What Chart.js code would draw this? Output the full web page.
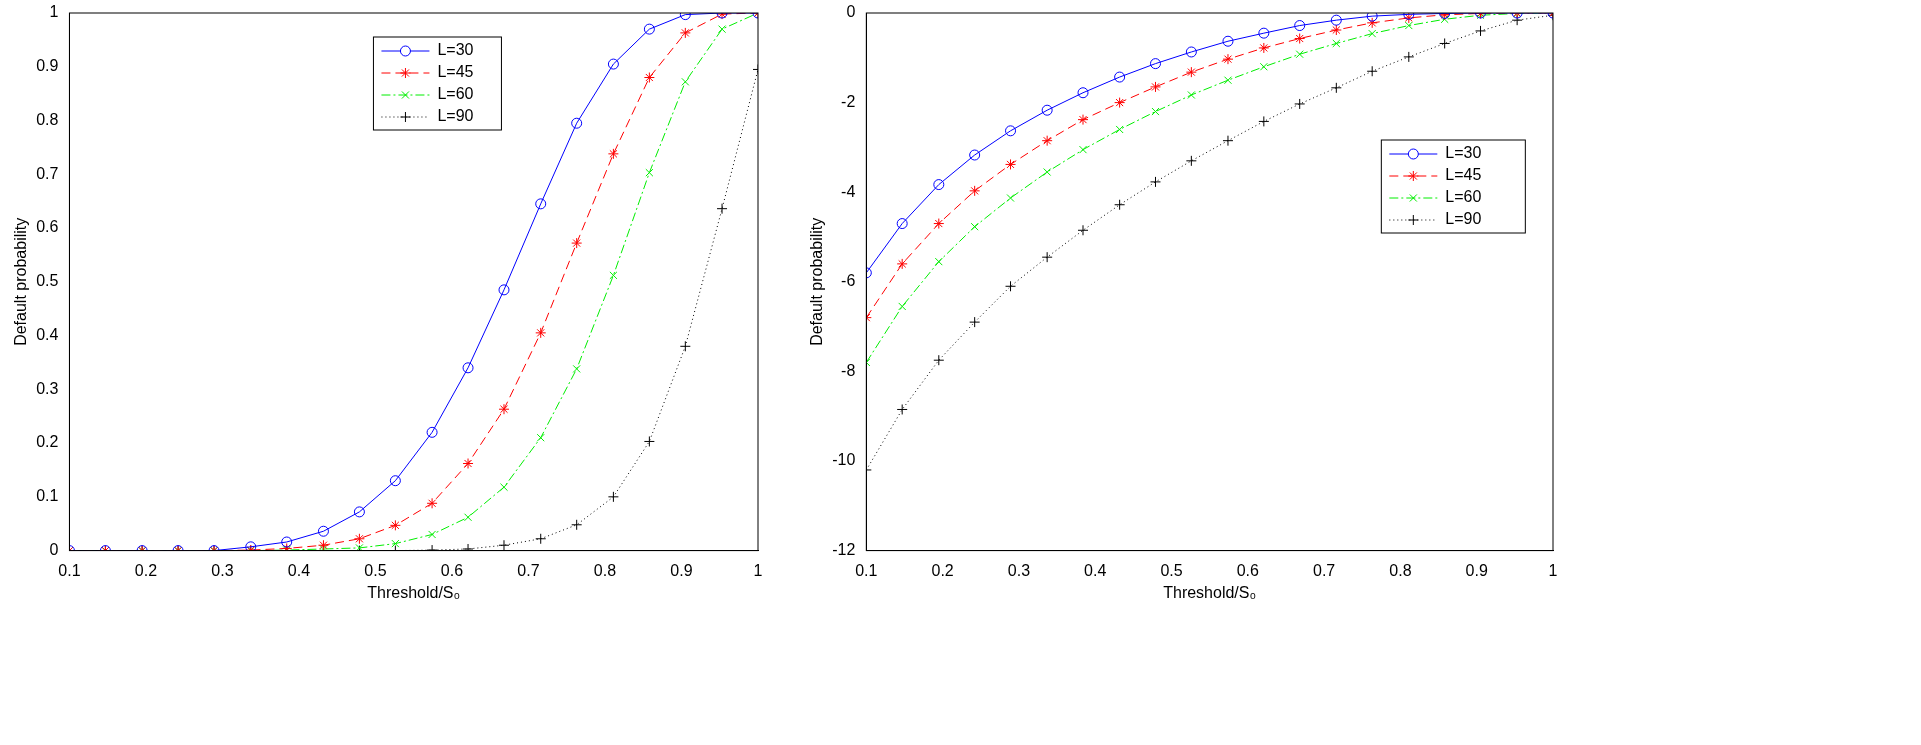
<!DOCTYPE html>
<html><head><meta charset="utf-8">
<script src="https://cdn.jsdelivr.net/npm/chart.js@4/dist/chart.umd.min.js"></script>
<style>
body{margin:0;background:#fff;width:1921px;height:745px;overflow:hidden}
.box{position:absolute;top:0;height:603px}
</style></head><body>
<div class="box" style="left:0;width:775px"><canvas id="c1"></canvas></div>
<div class="box" style="left:806px;width:763px"><canvas id="c2"></canvas></div>
<script>
// threshold/S0 points
const xs = [0.1,0.147,0.195,0.242,0.289,0.337,0.384,0.432,0.479,0.526,0.574,0.621,0.668,0.716,0.763,0.811,0.858,0.905,0.953,1.0];
const labels = ['L=30','L=45','L=60','L=90'];

// default probability
const prob30 = [0,0,0,0,0,0.007,0.016,0.036,0.072,0.13,0.22,0.34,0.485,0.645,0.795,0.905,0.97,0.997,1,1];
const prob45 = [0,0,0,0,0,0.001,0.004,0.01,0.022,0.047,0.088,0.162,0.263,0.405,0.572,0.738,0.88,0.963,0.998,1];
const prob60 = [0,0,0,0,0,0,0.001,0.003,0.005,0.013,0.03,0.062,0.118,0.21,0.338,0.512,0.703,0.872,0.97,1];
const prob90 = [0,0,0,0,0,0,0,0,0,0,0.001,0.003,0.01,0.022,0.048,0.1,0.203,0.38,0.636,0.895];

// log default probability
const log30 = [-5.8,-4.7,-3.83,-3.17,-2.63,-2.17,-1.78,-1.43,-1.13,-0.87,-0.63,-0.45,-0.28,-0.16,-0.07,-0.03,-0.01,0,0,0];
const log45 = [-6.8,-5.6,-4.7,-3.97,-3.38,-2.85,-2.38,-2.0,-1.65,-1.32,-1.03,-0.78,-0.57,-0.38,-0.22,-0.11,-0.04,-0.01,0,0];
const log60 = [-7.8,-6.55,-5.55,-4.77,-4.13,-3.55,-3.05,-2.6,-2.2,-1.83,-1.5,-1.2,-0.92,-0.68,-0.46,-0.28,-0.14,-0.05,-0.01,0];
const log90 = [-10.2,-8.85,-7.75,-6.9,-6.1,-5.45,-4.85,-4.28,-3.77,-3.3,-2.85,-2.42,-2.03,-1.67,-1.3,-0.98,-0.68,-0.4,-0.16,-0.05];

const colors = ['#0000ff','#ff0000','#00ee00','#000000'];
const dashes = [[],[9,5],[9,3,2,3],[1,3]];
const markers = ['circle','star','crossRot','cross'];

Chart.defaults.font.family = '"Liberation Sans", Arial, sans-serif';
Chart.defaults.font.size = 16;
Chart.defaults.color = '#000';

function makeSets(series) {
  return series.map((s, i) => ({
    label: labels[i],
    data: s.map((v, j) => ({x: xs[j], y: v})),
    borderColor: colors[i], backgroundColor: 'rgba(0,0,0,0)',
    borderWidth: 1, borderDash: dashes[i],
    pointStyle: markers[i], pointRadius: 5, pointBorderWidth: 1,
    pointBorderColor: colors[i], tension: 0
  }));
}

const framePlugin = {
  id: 'frame',
  afterDraw(chart, args, opts) {
    const {ctx, chartArea: a} = chart;
    ctx.save();
    ctx.strokeStyle = '#000'; ctx.lineWidth = 1;
    ctx.strokeRect(a.left, a.top, a.right - a.left, a.bottom - a.top);
    // legend box
    const bx = a.left + opts.x, by = a.top + opts.y, bw = opts.w, rh = 22;
    ctx.fillStyle = '#fff';
    ctx.fillRect(bx, by, bw, rh * 4 + 5);
    ctx.strokeRect(bx, by, bw, rh * 4 + 5);
    chart.data.datasets.forEach((d, i) => {
      const y = by + 14 + i * rh;
      ctx.strokeStyle = colors[i];
      ctx.setLineDash(dashes[i]);
      ctx.beginPath(); ctx.moveTo(bx + 8, y); ctx.lineTo(bx + 56, y); ctx.stroke();
      ctx.setLineDash([]);
      Chart.helpers.drawPoint(ctx, {pointStyle: markers[i], radius: 5, borderWidth: 1}, bx + 32, y);
      ctx.fillStyle = '#000';
      ctx.font = '16px "Liberation Sans", Arial, sans-serif';
      ctx.textBaseline = 'middle';
      ctx.fillText(d.label, bx + 64, y);
    });
    ctx.restore();
  }
};

function makeChart(id, series, ymin, ymax, step, leg, pad) {
  new Chart(document.getElementById(id), {
    type: 'line',
    data: {datasets: makeSets(series)},
    plugins: [framePlugin],
    options: {
      responsive: true, maintainAspectRatio: false, animation: false,
      layout: {padding: pad},
      plugins: {legend: {display: false}, tooltip: {enabled: false}, frame: leg},
      scales: {
        x: {type: 'linear', min: 0.1, max: 1,
            ticks: {stepSize: 0.1, callback: v => Math.abs(v - 1) < 1e-9 ? '1' : v.toFixed(1)},
            grid: {display: false}, border: {color: '#000'},
            title: {display: true, text: 'Threshold/S₀', padding: 0}},
        y: {min: ymin, max: ymax,
            ticks: {stepSize: step, callback: v => Math.abs(v) < 1e-9 ? '0' : (Number.isInteger(v) ? String(v) : v.toFixed(1))},
            grid: {display: false}, border: {color: '#000'},
            title: {display: true, text: 'Default probability', padding: 2}}
      }
    }
  });
}

makeChart('c1', [prob30, prob45, prob60, prob90], 0, 1, 0.1, {x: 304, y: 24, w: 128}, {top: 13, right: 17, left: 10, bottom: 0});
makeChart('c2', [log30, log45, log60, log90], -12, 0, 2, {x: 515, y: 127, w: 144}, {top: 13, right: 16, left: 0, bottom: 0});
</script>
</body></html>
